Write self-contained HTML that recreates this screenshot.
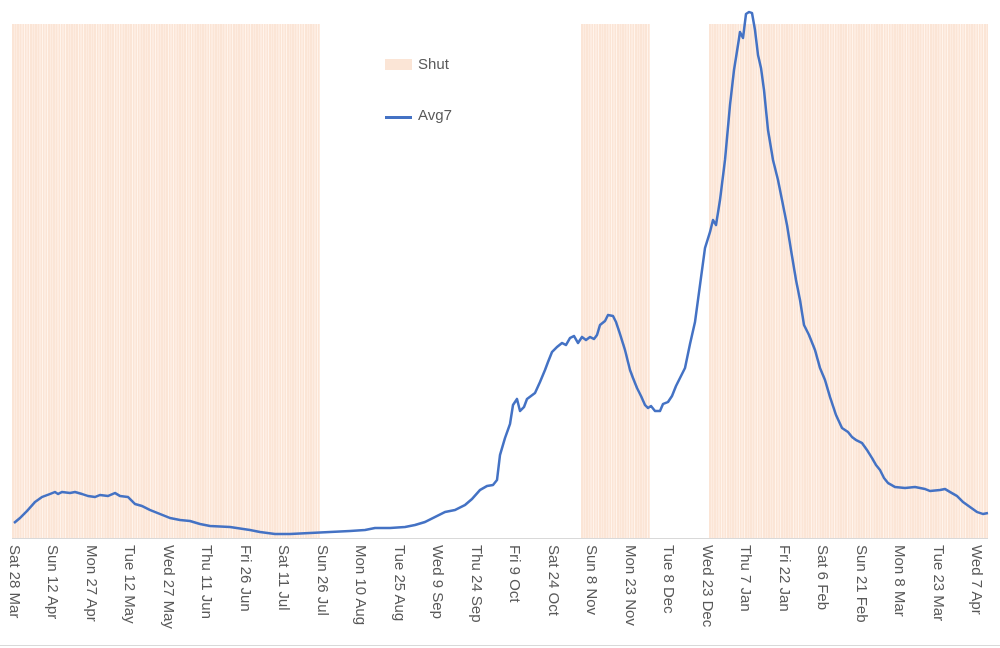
<!DOCTYPE html>
<html><head><style>
body{margin:0;background:#fff;width:1000px;height:648px;overflow:hidden;position:relative;font-family:"Liberation Sans",sans-serif;}
.band{position:absolute;top:24px;height:514px;background:repeating-linear-gradient(90deg,#fbe5d6 0 1.8px,#fff4ec 1.8px 2.57px);}
.lbl{position:absolute;top:545px;transform-origin:0 0;transform:rotate(90deg);font-size:15px;color:#595959;white-space:nowrap;}
</style></head><body>
<div class="band" style="left:12px;width:308px"></div>
<div class="band" style="left:581px;width:69px"></div>
<div class="band" style="left:709px;width:279px"></div>
<div style="position:absolute;left:12px;top:538px;width:976px;height:1px;background:#d9d9d9"></div>
<div style="position:absolute;left:0;top:645px;width:1000px;height:1px;background:#d9d9d9"></div>
<div style="position:absolute;left:385px;top:59px;width:27px;height:11px;background:#fbe5d6"></div>
<div style="position:absolute;left:418px;top:56px;font-size:15px;color:#595959">Shut</div>
<div style="position:absolute;left:385px;top:116px;width:27px;height:3px;background:#4472c4"></div>
<div style="position:absolute;left:418px;top:107px;font-size:15px;color:#595959">Avg7</div>
<svg style="position:absolute;left:0;top:0" width="1000" height="648">
<polyline fill="none" stroke="#4472c4" stroke-width="2.5" stroke-linejoin="round" points="14,523 20,518 27,511 35,502 42,497 50,494 55,492 58,494 62,492 70,493 75,492 82,494 88,496 95,497 100,495 108,496 115,493 120,496 128,497 135,504 142,506 150,510 160,514 170,518 180,520 190,521 200,524 210,526 230,527 250,530 260,532 275,534 290,534 310,533 330,532 350,531 365,530 375,528 390,528 405,527 415,525 425,522 435,517 445,512 455,510 465,505 472,499 480,490 487,486 493,485 497,480 500,455 505,438 510,424 513,405 517,399 520,411 524,407 527,399 535,393 540,382 545,370 548,362 552,352 557,347 562,343 566,345 570,338 574,336 578,343 582,337 586,340 590,337 594,339 597,335 600,325 605,321 608,315 613,316 616,322 620,334 625,350 630,370 633,378 637,388 641,396 645,405 648,408 651,406 655,411 660,411 663,404 668,402 672,396 676,386 680,378 685,368 690,344 695,322 700,285 705,248 710,232 713,220 716,225 720,200 725,160 730,105 734,70 738,45 740,32 743,38 746,14 749,12 752,13 755,30 758,55 761,68 764,90 768,130 773,160 778,180 783,205 787,225 791,250 796,280 800,300 804,325 809,335 815,350 820,368 825,380 830,397 836,415 842,428 848,432 852,437 856,440 862,443 867,450 872,458 876,465 880,470 884,478 888,483 895,487 905,488 915,487 925,489 930,491 940,490 945,489 950,492 957,496 963,502 970,507 977,512 983,514 988,513"/>
</svg>
<div class="lbl" style="left:23px">Sat 28 Mar</div>
<div class="lbl" style="left:61px">Sun 12 Apr</div>
<div class="lbl" style="left:100px">Mon 27 Apr</div>
<div class="lbl" style="left:138px">Tue 12 May</div>
<div class="lbl" style="left:177px">Wed 27 May</div>
<div class="lbl" style="left:215px">Thu 11 Jun</div>
<div class="lbl" style="left:254px">Fri 26 Jun</div>
<div class="lbl" style="left:292px">Sat 11 Jul</div>
<div class="lbl" style="left:331px">Sun 26 Jul</div>
<div class="lbl" style="left:369px">Mon 10 Aug</div>
<div class="lbl" style="left:408px">Tue 25 Aug</div>
<div class="lbl" style="left:446px">Wed 9 Sep</div>
<div class="lbl" style="left:485px">Thu 24 Sep</div>
<div class="lbl" style="left:523px">Fri 9 Oct</div>
<div class="lbl" style="left:562px">Sat 24 Oct</div>
<div class="lbl" style="left:600px">Sun 8 Nov</div>
<div class="lbl" style="left:639px">Mon 23 Nov</div>
<div class="lbl" style="left:677px">Tue 8 Dec</div>
<div class="lbl" style="left:716px">Wed 23 Dec</div>
<div class="lbl" style="left:754px">Thu 7 Jan</div>
<div class="lbl" style="left:793px">Fri 22 Jan</div>
<div class="lbl" style="left:831px">Sat 6 Feb</div>
<div class="lbl" style="left:870px">Sun 21 Feb</div>
<div class="lbl" style="left:908px">Mon 8 Mar</div>
<div class="lbl" style="left:947px">Tue 23 Mar</div>
<div class="lbl" style="left:985px">Wed 7 Apr</div>
</body></html>
